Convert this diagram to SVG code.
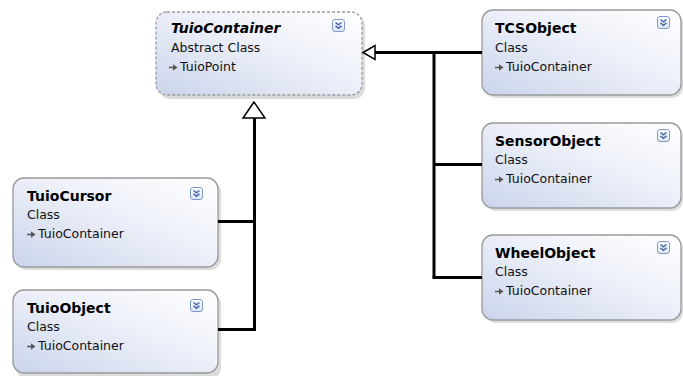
<svg xmlns="http://www.w3.org/2000/svg" width="683" height="376" viewBox="0 0 683 376">
  <defs>
    <linearGradient id="boxFill" x1="0" y1="1" x2="1" y2="0">
      <stop offset="0" stop-color="#cbd4eb"/>
      <stop offset="0.55" stop-color="#edf0f9"/>
      <stop offset="1" stop-color="#ffffff"/>
    </linearGradient>
    <linearGradient id="btnFill" x1="0" y1="0" x2="0" y2="1">
      <stop offset="0" stop-color="#ffffff"/>
      <stop offset="1" stop-color="#dbe4f4"/>
    </linearGradient>
    <!-- collapse button with double chevron -->
    <g id="collapse">
      <rect x="0.5" y="0.5" width="12" height="12" rx="2.5" fill="url(#btnFill)" stroke="#7f9cc6" stroke-width="1"/>
      <path d="M3.5 3.5 L6.5 5.9 L9.5 3.5 M3.5 6.9 L6.5 9.3 L9.5 6.9" fill="none" stroke="#3f64a8" stroke-width="1.4"/>
    </g>
    <!-- small base-type arrow icon -->
    <g id="inherit">
      <path d="M0 3.5 H5" stroke="#555" stroke-width="1.5"/>
      <path d="M4 0.3 L8.5 3.5 L4 6.7 Z" fill="#555"/>
    </g>
  </defs>
  <style>
    .shadow { fill: #dcdcdc; }
    .box { fill: url(#boxFill); stroke: #9a9a9a; stroke-width: 1.3; }
    .abstract { stroke-dasharray: 3 2; }
    .title { font-family: "DejaVu Sans", "Liberation Sans", sans-serif; font-size: 14px; font-weight: bold; fill: #000; }
    .italic { font-style: italic; }
    .kind, .base { font-family: "DejaVu Sans", "Liberation Sans", sans-serif; font-size: 12.5px; fill: #111; }
    .base { font-size: 12.5px; }
    .conn { fill: none; stroke: #000; stroke-width: 3; }
    .head { fill: #fff; stroke: #000; stroke-width: 1.5; }
  </style>

  <rect width="683" height="376" fill="#ffffff"/>

  <g id="TuioContainer">
    <rect class="shadow" x="159" y="15" width="206" height="84" rx="11"/>
    <rect class="box abstract" x="156" y="12" width="206" height="83" rx="11"/>
    <text class="title italic" x="171" y="33">TuioContainer</text>
    <text class="kind" x="171" y="52">Abstract Class</text>
    <use href="#inherit" x="169" y="64"/>
    <text class="base" x="180" y="71">TuioPoint</text>
    <use href="#collapse" x="332" y="19"/>
  </g>

  <g id="TCSObject">
    <rect class="shadow" x="485" y="13" width="198" height="85" rx="11"/>
    <rect class="box" x="482" y="10" width="199" height="85" rx="11"/>
    <text class="title" x="495" y="33">TCSObject</text>
    <text class="kind" x="495" y="52">Class</text>
    <use href="#inherit" x="495" y="64"/>
    <text class="base" x="506" y="71">TuioContainer</text>
    <use href="#collapse" x="657" y="16"/>
  </g>

  <g id="SensorObject">
    <rect class="shadow" x="485" y="126" width="198" height="85" rx="11"/>
    <rect class="box" x="482" y="123" width="199" height="85" rx="11"/>
    <text class="title" x="495" y="146">SensorObject</text>
    <text class="kind" x="495" y="164">Class</text>
    <use href="#inherit" x="495" y="176"/>
    <text class="base" x="506" y="183">TuioContainer</text>
    <use href="#collapse" x="657" y="129"/>
  </g>

  <g id="WheelObject">
    <rect class="shadow" x="485" y="238" width="198" height="85" rx="11"/>
    <rect class="box" x="482" y="235" width="199" height="85" rx="11"/>
    <text class="title" x="495" y="258">WheelObject</text>
    <text class="kind" x="495" y="276">Class</text>
    <use href="#inherit" x="495" y="288"/>
    <text class="base" x="506" y="295">TuioContainer</text>
    <use href="#collapse" x="657" y="241"/>
  </g>

  <g id="TuioCursor">
    <rect class="shadow" x="16" y="181" width="205" height="89" rx="11"/>
    <rect class="box" x="13" y="178" width="205" height="89" rx="11"/>
    <text class="title" x="27" y="201">TuioCursor</text>
    <text class="kind" x="27" y="219">Class</text>
    <use href="#inherit" x="27" y="231"/>
    <text class="base" x="38" y="238">TuioContainer</text>
    <use href="#collapse" x="190" y="187"/>
  </g>

  <g id="TuioObject">
    <rect class="shadow" x="16" y="293" width="205" height="86" rx="11"/>
    <rect class="box" x="13" y="290" width="205" height="83" rx="11"/>
    <text class="title" x="27" y="313">TuioObject</text>
    <text class="kind" x="27" y="331">Class</text>
    <use href="#inherit" x="27" y="343"/>
    <text class="base" x="38" y="350">TuioContainer</text>
    <use href="#collapse" x="190" y="299"/>
  </g>

  <g id="connectors">
    <!-- right-hand generalisation tree -->
    <path class="conn" d="M482 52.5 H375"/>
    <path class="conn" d="M434 52.5 V277.5"/>
    <path class="conn" d="M434 164.5 H482"/>
    <path class="conn" d="M432.5 277.5 H482"/>
    <polygon class="head" points="363,52.5 375,45.5 375,59.5"/>
    <!-- left-hand generalisation tree -->
    <path class="conn" d="M254.5 118 V330.5"/>
    <path class="conn" d="M218 221.5 H256"/>
    <path class="conn" d="M218 329.5 H256"/>
    <polygon class="head" points="254,102 243,118 265,118"/>
  </g>
</svg>
